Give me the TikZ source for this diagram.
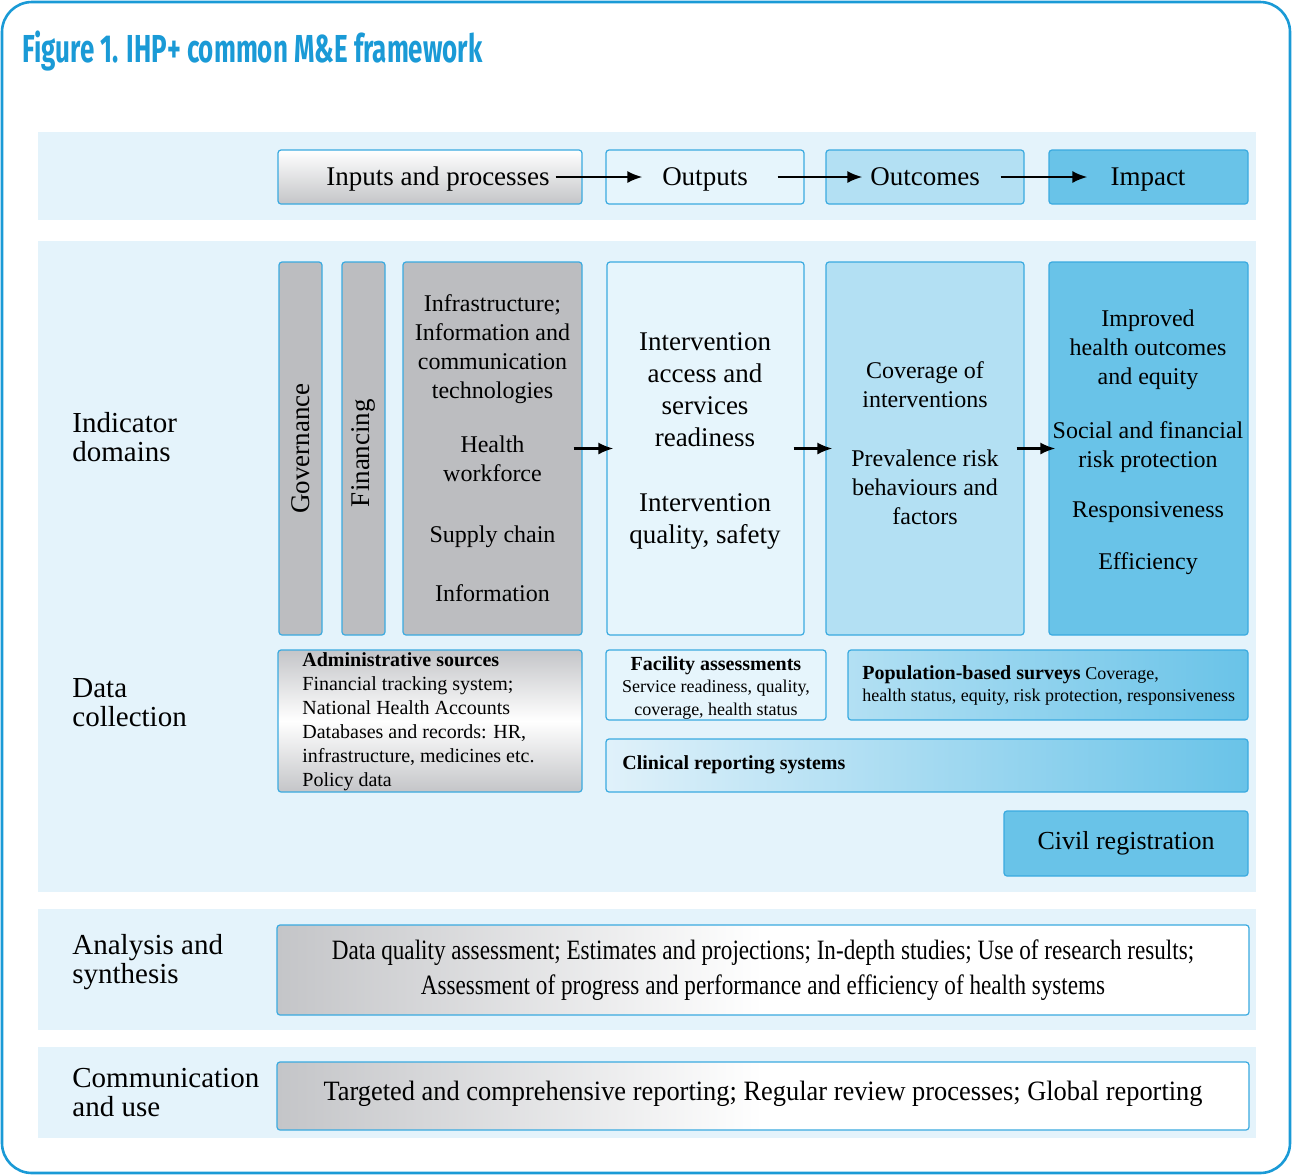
\documentclass[tikz,border=0pt]{standalone}
\usepackage{fontspec}
\setmainfont{Liberation Serif}
\newfontfamily\headfont{Fira Sans}
\usetikzlibrary{fit, arrows.meta, calc}

\definecolor{framecol}{HTML}{1A9AD6}
\definecolor{bandcol}{HTML}{E4F3FB}
\definecolor{boxline}{HTML}{3AAAE0}
\definecolor{greybox}{HTML}{BCBDC0}
\definecolor{outcol}{HTML}{E6F5FC}
\definecolor{outccol}{HTML}{B3E0F3}
\definecolor{impcol}{HTML}{69C3E8}
\definecolor{shadegrey}{HTML}{C4C5C8}
\definecolor{paleblue}{HTML}{E0F1FA}

\begin{document}
\begin{tikzpicture}[x=0.5pt, y=-0.5pt,
    cell/.style={draw=boxline, line width=0.6pt, rounded corners=1.5pt, inner sep=0pt},
    arr/.style={-{Latex[length=7.5pt, width=6pt]}, line width=1.1pt},
    txtmain/.style={font=\fontsize{12}{14.5}\selectfont, align=center, inner sep=0pt},
    txtbig/.style={font=\fontsize{13.5}{16}\selectfont, align=center, inner sep=0pt},
    rowlabel/.style={font=\fontsize{14.5}{14.5}\selectfont, align=left, anchor=west, inner sep=0pt},
    srctxt/.style={font=\fontsize{9}{11.25}\selectfont, inner sep=0pt}]

    \useasboundingbox (0,0) rectangle (1292,1175);

    % Frame and title
    \draw[framecol, line width=1.3pt, rounded corners=15pt] (2,2) rectangle (1290,1173);
    \node[anchor=base west, inner sep=0pt, text=framecol, font=\headfont\bfseries\fontsize{19.5}{22}\selectfont] (title) at (22,62) {\scalebox{0.665}[1]{Figure 1. IHP+ common M\&E framework}};

    % --- Background bands ---
    \fill[bandcol] (38,132) rectangle (1256,220);
    \fill[bandcol] (38,241) rectangle (1256,892);
    \fill[bandcol] (38,909) rectangle (1256,1030);
    \fill[bandcol] (38,1047) rectangle (1256,1138);

    % --- Row labels ---
    \node[rowlabel] (ind) at (72,437.5) {Indicator\\domains};
    \node[rowlabel] (dat) at (72,702.5) {Data\\collection};
    \node[rowlabel] (ana) at (72,962.5) {Analysis and\\synthesis};
    \node[rowlabel] (com) at (72,1092.5) {Communication\\and use};

    % --- Results chain ---
    \node[cell, fit={(278,150) (582,204)}, top color=white, bottom color=shadegrey] (inp) {};
    \node[cell, fit={(606,150) (804,204)}, fill=outcol] (out) {};
    \node[cell, fit={(826,150) (1024,204)}, fill=outccol] (outc) {};
    \node[cell, fit={(1049,150) (1248,204)}, fill=impcol] (imp) {};
    \node[txtbig, anchor=base] (inptxt) at (438,185) {Inputs and processes};
    \node[txtbig, anchor=base] (outtxt) at (705,185) {Outputs};
    \node[txtbig, anchor=base] (outctxt) at (925,185) {Outcomes};
    \node[txtbig, anchor=base] (imptxt) at (1148,185) {Impact};

    \draw[arr, shorten <=-13.5pt, shorten >=-18.5pt] (inp.east) -- (out.west);
    \draw[arr, shorten <=-13.5pt, shorten >=-18.5pt] (out.east) -- (outc.west);
    \draw[arr, shorten <=-12pt, shorten >=-19.5pt] (outc.east) -- (imp.west);

    % --- Indicator domains ---
    \node[cell, fit={(279,262) (322,635)}, fill=greybox] (gov) {};
    \node[cell, fit={(342,262) (385,635)}, fill=greybox] (fin) {};
    \node[cell, fit={(403,262) (582,635)}, fill=greybox] (infra) {};
    \node[cell, fit={(607,262) (804,635)}, fill=outcol] (acc) {};
    \node[cell, fit={(826,262) (1024,635)}, fill=outccol] (cov) {};
    \node[cell, fit={(1049,262) (1248,635)}, fill=impcol] (hlth) {};

    \node[txtbig, rotate=90] (govtxt) at (gov.center) {Governance};
    \node[txtbig, rotate=90] (fintxt) at (363.5,453) {Financing};
    \node[txtmain] (infratxt) at (infra.center) {Infrastructure;\\Information and\\communication\\technologies\\[12.5pt]Health\\workforce\\[16pt]Supply chain\\[15pt]Information};
    \node[txtbig] (acctxt) at (705,441) {Intervention\\access and\\services\\readiness\\[16.5pt]Intervention\\quality, safety};
    \node[txtmain] (covtxt) at (925,443) {Coverage of\\interventions\\[15pt]Prevalence risk\\behaviours and\\factors};
    \node[txtmain] (hlthtxt) at (1148,442.5) {Improved\\health outcomes\\and equity\\[12.5pt]Social and financial\\risk protection\\[10.5pt]Responsiveness\\[11.5pt]Efficiency};

    \draw[arr, shorten <=-4.5pt, shorten >=-3.5pt] (infra.east) -- (acc.west);
    \draw[arr, shorten <=-5.5pt, shorten >=-3.5pt] (acc.east) -- (cov.west);
    \draw[arr, shorten <=-4pt, shorten >=-3.5pt] (cov.east) -- (hlth.west);

    % --- Data collection ---
    \node[cell, fit={(278,650) (582,792)}, top color=shadegrey, bottom color=shadegrey, middle color=white] (admin) {};
    \node[cell, fit={(606,650) (826,720)}, fill=outcol] (fac) {};
    \node[cell, fit={(848,650) (1248,720)}, left color=outccol, right color=impcol] (pop) {};
    \node[cell, fit={(606,739) (1248,792)}, left color=paleblue, right color=impcol] (clin) {};
    \node[cell, fit={(1004,811) (1248,876)}, fill=impcol] (civ) {};

    \node[srctxt, font=\fontsize{10}{12}\selectfont, anchor=west, align=left] (admintxt) at (302,722) {\textbf{Administrative sources}\\Financial tracking system;\\National Health Accounts\\Databases and records: HR,\\infrastructure, medicines etc.\\Policy data};
    \node[srctxt, align=center] (factxt) at (716,687.5) {\textbf{\fontsize{10}{11.25}\selectfont Facility assessments}\\Service readiness, quality,\\coverage, health status};
    \node[srctxt, font=\fontsize{9}{11}\selectfont, anchor=west, align=left] (poptxt) at (862,685) {\textbf{\fontsize{10}{11}\selectfont Population-based surveys} Coverage,\\health status, equity, risk protection, responsiveness};
    \node[srctxt, font=\bfseries\fontsize{10}{12}\selectfont, anchor=west] (clintxt) at (622,765) {Clinical reporting systems};
    \node[txtbig, font=\fontsize{13}{15}\selectfont] (civtxt) at (civ.center) {Civil registration};

    % --- Analysis and communication ---
    \node[cell, fit={(277,925) (1249,1015)}, left color=shadegrey, right color=white, middle color=white] (anabox) {};
    \node[cell, fit={(277,1062) (1249,1130)}, left color=shadegrey, right color=white, middle color=white] (combox) {};
    \node[inner sep=0pt, font=\fontsize{14}{17.5}\selectfont] (anatxt) at (anabox.center) {\scalebox{0.827}[1]{\begin{tabular}{@{}c@{}}Data quality assessment; Estimates and projections; In-depth studies; Use of research results;\\Assessment of progress and performance and efficiency of health systems\end{tabular}}};
    \node[inner sep=0pt, font=\fontsize{14}{16}\selectfont] (comtxt) at (763,1094) {\scalebox{0.943}[1]{Targeted and comprehensive reporting; Regular review processes; Global reporting}};

\end{tikzpicture}
\end{document}
